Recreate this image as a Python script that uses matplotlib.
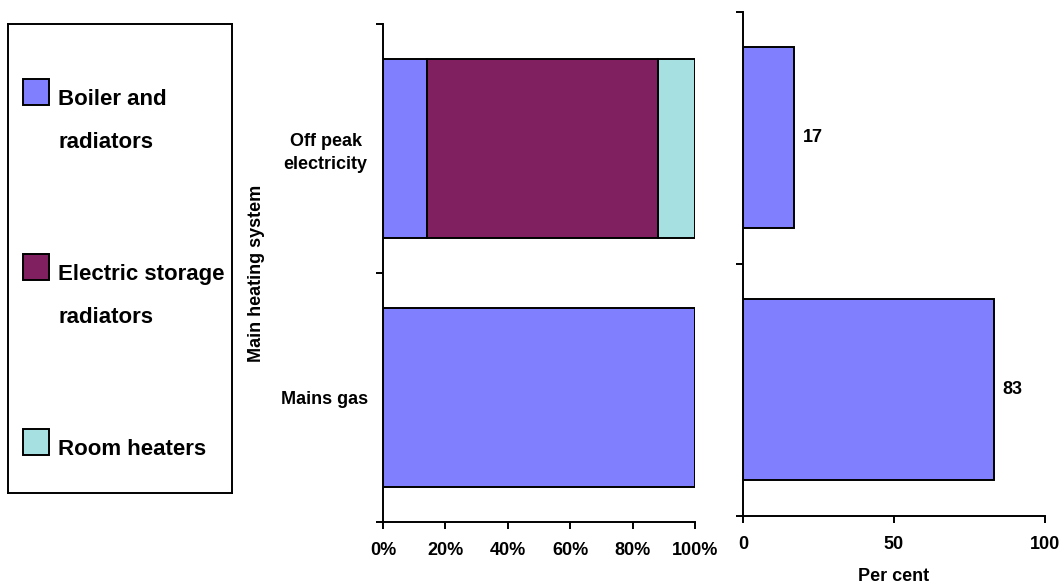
import matplotlib
matplotlib.use("Agg")
import matplotlib.pyplot as plt
from matplotlib.patches import Rectangle

plt.rcParams['font.family'] = ['Liberation Sans', 'DejaVu Sans']
plt.rcParams['font.weight'] = 'bold'

# Data
systems = ["Mains gas", "Off peak\nelectricity"]
system_labels = ["Mains gas", "Off peak\nelectricity"]
heater_types = ["Boiler and\nradiators", "Electric storage\nradiators", "Room heaters"]
boiler = [100, 14]
storage = [0, 74]
room = [0, 12]
share = [83, 17]
pct_ticks = [0, 20, 40, 60, 80, 100]
pct_tick_labels = ["0%", "20%", "40%", "60%", "80%", "100%"]
share_ticks = [0, 50, 100]

colors = ["#8080FF", "#802060", "#A6E0E0"]

W, H = 1063, 586
fig = plt.figure(figsize=(W / 100, H / 100), dpi=100)

def px_axes(x0, y0, x1, y1):
    return fig.add_axes([x0 / W, 1 - y1 / H, (x1 - x0) / W, (y1 - y0) / H])

LW = 1.4
FS = 13

def style_axes(ax):
    for s in ("top", "right"):
        ax.spines[s].set_visible(False)
    for s in ("left", "bottom"):
        ax.spines[s].set_linewidth(LW)
    ax.set_ylim(-0.5, 1.5)
    ax.set_yticks([-0.5, 0.5, 1.5])
    ax.set_yticklabels([])
    ax.tick_params(axis="both", which="major", direction="out", length=5,
                   width=LW, labelsize=FS, pad=9.5)

# Left panel: composition of heating type within each main system
ax1 = px_axes(383, 24, 695, 522)
style_axes(ax1)
pos = list(range(len(systems)))
h = 0.72
left = [0] * len(systems)
for vals, c in zip([boiler, storage, room], colors):
    ax1.barh(pos, vals, height=h, left=left, color=c, edgecolor="black",
             linewidth=LW, zorder=2)
    left = [a + b for a, b in zip(left, vals)]
ax1.set_xlim(0, 100)
ax1.set_xticks(pct_ticks)
ax1.set_xticklabels(pct_tick_labels, fontweight="bold")
ax1.set_yticks(pos, minor=True)
ax1.set_yticklabels(system_labels, minor=True, fontsize=FS, fontweight="bold",
                    ha="right", multialignment="center", linespacing=1.45)
ax1.tick_params(axis="y", which="minor", length=0, pad=11)
ax1.set_ylabel("Main heating system", fontsize=FS, fontweight="bold")
ax1.yaxis.set_label_coords(-0.377, 0.5)

# Right panel: share of households per main system
ax2 = px_axes(743, 11.5, 1045, 516)
style_axes(ax2)
bars = ax2.barh(pos, share, height=0.717, color=colors[0], edgecolor="black",
                linewidth=LW, zorder=2)
ax2.bar_label(bars, labels=[str(v) for v in share], padding=6,
              fontsize=FS, fontweight="bold")
ax2.set_xlim(0, 100)
ax2.set_xticks(share_ticks)
ax2.set_xticklabels([str(t) for t in share_ticks], fontweight="bold")
ax2.set_xlabel("Per cent", fontsize=FS, fontweight="bold", labelpad=11)

# Legend box
lg = px_axes(8, 24, 232, 493)
lg.set_xlim(8, 232)
lg.set_ylim(493, 24)
lg.set_xticks([])
lg.set_yticks([])
for s in lg.spines.values():
    s.set_linewidth(LW)
swatch_bottoms = [105, 280, 455]
for name, c, yb in zip(heater_types, colors, swatch_bottoms):
    lg.add_patch(Rectangle((22.7, yb - 26), 26, 26, facecolor=c,
                           edgecolor="black", linewidth=LW))
    for i, line in enumerate(name.split("\n")):
        lg.text(58, yb + i * 43, line, fontsize=16, fontweight="bold",
                va="baseline", ha="left")

fig.savefig("out.png", dpi=100)
